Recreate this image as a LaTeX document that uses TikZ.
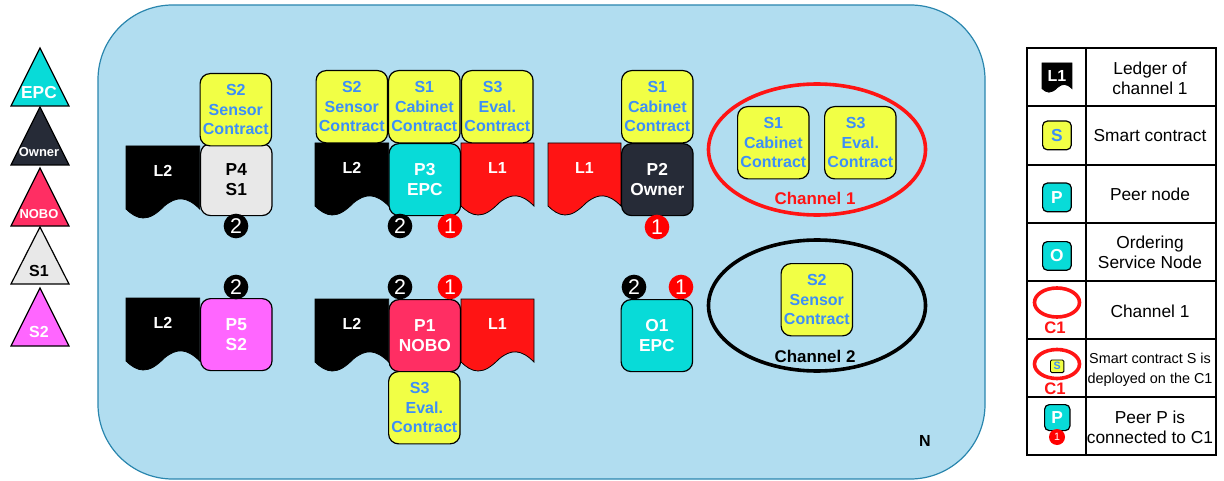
\documentclass[tikz,border=0pt]{standalone}
\usepackage{fontspec}
\setmainfont{Liberation Sans}
\definecolor{epc}{HTML}{08DBD8}
\definecolor{owner}{HTML}{262B37}
\definecolor{nobo}{HTML}{FF2E63}
\definecolor{sone}{HTML}{E8E8E8}
\definecolor{stwo}{HTML}{FF66FF}
\definecolor{yel}{HTML}{F1FF45}
\definecolor{ctext}{HTML}{3D8EF8}
\definecolor{redl}{HTML}{FF1414}
\definecolor{bg}{HTML}{B1DDF0}
\definecolor{bgline}{HTML}{2A86AE}
\tikzset{
  x=0.75pt,y=-0.75pt,
  box/.style={draw=black,line width=0.9pt,rounded corners=7.5pt,anchor=north west,inner sep=0pt,align=center,font=\fontsize{12}{14.5}\selectfont\bfseries},
  peer/.style={box,minimum width=53.6pt,minimum height=54pt,text width=53.6pt,text=white,font=\fontsize{13}{14.7}\selectfont\bfseries},
  contract/.style={box,fill=yel,minimum width=53.6pt,minimum height=54.2pt,text width=53.6pt,text=ctext},
  badge/.style={circle,inner sep=0pt,minimum size=18.5pt,text=white,font=\fontsize{16}{16}\selectfont},
  lab/.style={font=\fontsize{12}{14.5}\selectfont\bfseries,text=white,inner sep=0pt,align=center},
  chlab/.style={lab,font=\fontsize{12.7}{14.5}\selectfont\bfseries},
  tri/.style={draw=black,line width=0.9pt,line join=miter},
  channel/.style={draw,line width=2.7pt,fill=none},
  legtext/.style={font=\fontsize{13}{15}\selectfont,align=center,inner sep=0pt},
  smalltext/.style={font=\fontsize{10.8}{15}\selectfont,align=center,inner sep=0pt},
}
% name, x, y, xscale, yscale, colour, label, label y offset
\newcommand{\ledger}[8]{%
  \begin{scope}[shift={(#2,#3)},xscale=#4,yscale=#5]
    \path[fill=#6,draw=black,line width=0.6pt] (0,0) -- (73,0) -- (73,63) .. controls (60,50) and (50,50) .. (38,60)
      .. controls (30,68) and (24,72) .. (17,72) .. controls (11,72) and (5,68) .. (0,63) -- cycle;
  \end{scope}
  \node[lab] (#1) at (#2+36.5*#4,#3+#8) {#7};%
}
\begin{document}
\begin{tikzpicture}
\useasboundingbox (0,0) rectangle (1224,481);
% network
\draw[fill=bg,draw=bgline,line width=0.9pt,rounded corners=56pt] (98,5) rectangle (985,479);
% role triangles
\foreach \nm/\ya/\yb/\col in {tepc/48/106/epc,town/107/165/owner,tnob/168/226/nobo,tsa/227/284/sone,tsb/288/346/stwo}{
  \draw[tri,fill=\col] (40,\ya) -- (69,\yb) -- (11,\yb) -- cycle;
}
\node[lab,font=\fontsize{13}{14}\selectfont\bfseries] (lepc) at (39,93) {EPC};
\node[lab,font=\fontsize{9.7}{12}\selectfont\bfseries] (lown) at (39,152) {Owner};
\node[lab,font=\fontsize{9.7}{12}\selectfont\bfseries] (lnob) at (39,214) {NOBO};
\node[lab,text=black] (lsa) at (39,271) {S1};
\node[lab] (lsb) at (39,332) {S2};
% ledgers
\ledger{la}{126}{146}{1.01}{1}{black}{L2}{25}
\ledger{lb}{126}{298}{1.01}{1}{black}{L2}{25}
\ledger{lc}{315}{143}{1.01}{1}{black}{L2}{25}
\ledger{ld}{315}{299}{1.01}{1}{black}{L2}{25}
\ledger{le}{461}{143}{1}{1}{redl}{L1}{25}
\ledger{lf}{461}{299}{1}{1}{redl}{L1}{25}
\ledger{lg}{548}{143}{1}{1}{redl}{L1}{25}
% peers
\node[peer,fill=sone,text=black] (p4) at (200,143) {P4\\S1};
\node[contract] (s2a) at (199.5,73) {S2\\Sensor\\Contract};
\node[peer,fill=stwo] (p5) at (200,298) {P5\\S2};
\node[peer,fill=epc] (p3) at (388.5,143) {P3\\EPC};
\node[contract] (s2b) at (315.5,70) {S2\\Sensor\\Contract};
\node[contract] (s1a) at (388,70) {S1\\Cabinet\\Contract};
\node[contract] (s3a) at (461,70) {\mbox{S3\hspace{7pt}}\\Eval.\\Contract};
\node[peer,fill=owner] (p2) at (621,143) {P2\\Owner};
\node[contract] (s1b) at (621,70) {S1\\Cabinet\\Contract};
\node[peer,fill=nobo] (p1) at (388.5,299) {P1\\NOBO};
\node[contract] (s3b) at (388,371) {\mbox{S3\hspace{7pt}}\\Eval.\\Contract};
\node[peer,fill=epc] (o1) at (620.5,299) {O1\\EPC};
% badges
\node[badge,fill=black] (ba) at (236,226) {2};
\node[badge,fill=black] (bb) at (236,287) {2};
\node[badge,fill=black] (bc) at (400,226) {2};
\node[badge,fill=red] (bd) at (450,226) {1};
\node[badge,fill=red] (be) at (657,227) {1};
\node[badge,fill=black] (bf) at (400,287) {2};
\node[badge,fill=red] (bg) at (450,287) {1};
\node[badge,fill=black] (bh) at (634,287) {2};
\node[badge,fill=red] (bi) at (681,287) {1};
% channels
\draw[channel,draw=redl] (817,149.5) ellipse [x radius=108.5,y radius=65.5];
\node[contract] (cs1) at (737,106) {S1\\Cabinet\\Contract};
\node[contract] (cs3) at (824,106) {\mbox{S3\hspace{7pt}}\\Eval.\\Contract};
\node[chlab,text=redl] (c1) at (815,198.5) {Channel 1};
\draw[channel,draw=black] (817,305.5) ellipse [x radius=108.5,y radius=65.5];
\node[contract] (cs2) at (780.5,263) {S2\\Sensor\\Contract};
\node[chlab,text=black] (c2) at (815,356) {Channel 2};
\node[lab,text=black] (nn) at (925,441) {N};
% legend table
\draw[line width=0.9pt] (1027,48) rectangle (1216,455);
\draw[line width=0.9pt] (1086,48) -- (1086,455);
\foreach \yy in {106,165,223,281,339,397}{\draw[line width=0.9pt] (1027,\yy) -- (1216,\yy);}
\node[legtext] (t1) at (1150,78) {Ledger of\\channel 1};
\node[legtext] (t2) at (1150,136) {Smart contract};
\node[legtext] (t3) at (1150,194) {Peer node};
\node[legtext] (t4) at (1150,252) {Ordering\\Service Node};
\node[legtext] (t5) at (1150,311) {Channel 1};
\node[smalltext] (t6) at (1150,370) {Smart contract S is\\deployed on the C1};
\node[legtext] (t7) at (1150,427) {Peer P is\\connected to C1};
% legend icons
\ledger{il}{1042}{63}{0.41}{0.405}{black}{L1}{13}
\tikzset{icon/.style={box,minimum width=21.5pt,minimum height=21.5pt,text width=21pt,rounded corners=3.5pt,font=\fontsize{13}{14}\selectfont\bfseries}}
\node[icon,fill=yel,text=ctext] (is) at (1042,120.5) {S};
\node[icon,fill=epc,text=white] (ip) at (1042,182.5) {P};
\node[icon,fill=epc,text=white] (io) at (1042,241) {O};
\draw[channel,draw=redl] (1057,302.5) ellipse [x radius=22.5,y radius=14.5];
\node[lab,text=redl,font=\fontsize{12.5}{14}\selectfont\bfseries] (ic) at (1055,328) {C1};
\draw[channel,draw=redl] (1057,364) ellipse [x radius=22.5,y radius=14.5];
\node[icon,fill=yel,text=ctext,minimum width=10pt,minimum height=9.5pt,text width=10pt,rounded corners=1pt,line width=0.7pt,font=\fontsize{8}{8}\selectfont\bfseries] (ii) at (1050,359.5) {S};
\node[lab,text=redl,font=\fontsize{12.5}{14}\selectfont\bfseries] (id) at (1055,389) {C1};
\node[icon,fill=epc,text=white,minimum width=19pt,minimum height=19.5pt,text width=19pt] (iq) at (1044,404) {P};
\node[circle,fill=red,inner sep=0pt,minimum size=12pt,text=white,font=\fontsize{8}{8}\selectfont] (ir) at (1057,437) {1};
\end{tikzpicture}
\end{document}
